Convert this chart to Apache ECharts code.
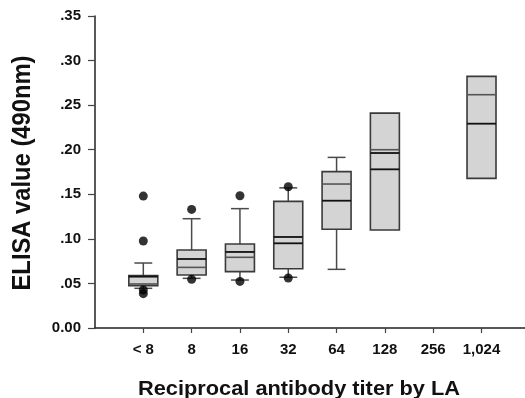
<!DOCTYPE html>
<html><head><meta charset="utf-8">
<script src="https://cdn.jsdelivr.net/npm/echarts@6/dist/echarts.min.js"></script>
<style>html,body{margin:0;padding:0;background:#fff}#c{width:525px;height:398px}</style>
</head><body><div id="c"></div>
<script>
// ---- data ----
var categories = ['< 8', '8', '16', '32', '64', '128', '256', '1,024'];
var yTickLabels = ['0.00', '.05', '.10', '.15', '.20', '.25', '.30', '.35'];
var boxLow      = [0.0475, 0.0595, 0.0632, 0.0665, 0.1107, 0.1099, null, 0.1679];
var boxHigh     = [0.0587, 0.0875, 0.0942, 0.1421, 0.1754, 0.2410, null, 0.2823];
var whiskerLow  = [0.0445, 0.0557, 0.0538, 0.0569, 0.0658, null, null, null];
var whiskerHigh = [0.0729, 0.1226, 0.1339, 0.1572, 0.1914, null, null, null];
var darkLines   = [[0.0576], [0.0774], [0.0853], [0.1021, 0.0950], [0.1428], [0.1963, 0.1780], [], [0.2292]];
var grayLines   = [[0.0494], [0.0680], [0.0793], [], [0.1615], [0.2000], [], [0.2617]];
var outlierCategory = ['< 8', '< 8', '< 8', '< 8', '8', '8', '16', '16', '32', '32'];
var outlierValue    = [0.1480, 0.0976, 0.0426, 0.0385, 0.1330, 0.0546, 0.1484, 0.0523, 0.1585, 0.0561];

// ---- build ----
var boxData = [];
categories.forEach(function (c, i) {
  if (boxLow[i] != null) {
    boxData.push([i + 1, boxLow[i], boxHigh[i],
      whiskerLow[i] == null ? NaN : whiskerLow[i],
      whiskerHigh[i] == null ? NaN : whiskerHigh[i], i]);
  }
});
var outlierData = outlierCategory.map(function (c, k) {
  return [categories.indexOf(c) + 1, outlierValue[k]];
});

var FONT = '"Liberation Sans", Arial, sans-serif';
var chart = echarts.init(document.getElementById('c'), null, { renderer: 'canvas' });

function renderBox(params, api) {
  var x = api.value(0);
  var lo = api.value(1), hi = api.value(2), wl = api.value(3), wh = api.value(4);
  var ci = api.value(5);
  var band = api.size([1, 0])[0];
  var bw = band * 0.6;
  var cw = band * 0.37;
  var pLo = api.coord([x, lo]), pHi = api.coord([x, hi]);
  var cx = pLo[0];
  var children = [];
  var wStyle = { stroke: '#4a4a4a', lineWidth: 1.5 };
  if (!isNaN(wh)) {
    var pWh = api.coord([x, wh]);
    children.push({ type: 'line', shape: { x1: cx, y1: pHi[1], x2: cx, y2: pWh[1] }, style: wStyle });
    children.push({ type: 'line', shape: { x1: cx - cw / 2, y1: pWh[1], x2: cx + cw / 2, y2: pWh[1] }, style: wStyle });
  }
  if (!isNaN(wl)) {
    var pWl = api.coord([x, wl]);
    children.push({ type: 'line', shape: { x1: cx, y1: pLo[1], x2: cx, y2: pWl[1] }, style: wStyle });
    children.push({ type: 'line', shape: { x1: cx - cw / 2, y1: pWl[1], x2: cx + cw / 2, y2: pWl[1] }, style: wStyle });
  }
  children.push({ type: 'rect', shape: { x: cx - bw / 2, y: pHi[1], width: bw, height: pLo[1] - pHi[1] },
    style: { fill: '#d4d4d4', stroke: '#3a3a3a', lineWidth: 1.6 } });
  grayLines[ci].forEach(function (v) {
    var p = api.coord([x, v]);
    children.push({ type: 'line', shape: { x1: cx - bw / 2, y1: p[1], x2: cx + bw / 2, y2: p[1] },
      style: { stroke: '#555', lineWidth: 1.6 } });
  });
  darkLines[ci].forEach(function (v) {
    var p = api.coord([x, v]);
    children.push({ type: 'line', shape: { x1: cx - bw / 2, y1: p[1], x2: cx + bw / 2, y2: p[1] },
      style: { stroke: '#111', lineWidth: 1.8 } });
  });
  return { type: 'group', children: children };
}

chart.setOption({
  animation: false,
  backgroundColor: '#fff',
  grid: { left: 95, top: 16, right: 0, bottom: 70, containLabel: false },
  xAxis: {
    type: 'value', min: 0, max: 8.9,
    splitLine: { show: false },
    axisLine: { show: true, lineStyle: { color: '#222', width: 1.5 } },
    axisTick: { show: true, length: 5, customValues: [1, 2, 3, 4, 5, 6, 7, 8], lineStyle: { color: '#444', width: 1.2 } },
    axisLabel: {
      customValues: [1, 2, 3, 4, 5, 6, 7, 8],
      formatter: function (v) { return categories[Math.round(v) - 1] || ''; },
      margin: 14, fontFamily: FONT, fontWeight: 'bold', fontSize: 15, color: '#111'
    }
  },
  yAxis: {
    type: 'value', min: 0, max: 0.35, interval: 0.05,
    splitLine: { show: false },
    axisLine: { show: true, lineStyle: { color: '#222', width: 1.5 } },
    axisTick: { show: true, length: 7, lineStyle: { color: '#444', width: 1.2 } },
    axisLabel: {
      formatter: function (v) { return yTickLabels[Math.round(v / 0.05)]; },
      margin: 14, fontFamily: FONT, fontWeight: 'bold', fontSize: 15, color: '#111'
    }
  },
  graphic: [
    { type: 'text', x: 23, y: 173, rotation: Math.PI / 2, scaleX: 0.95,
      style: { text: 'ELISA value (490nm)', font: 'bold 25px ' + FONT, fill: '#111',
        align: 'center', verticalAlign: 'middle' } },
    { type: 'text', x: 299, y: 389, scaleX: 1.09,
      style: { text: 'Reciprocal antibody titer by LA', font: 'bold 20px ' + FONT, fill: '#111',
        align: 'center', verticalAlign: 'middle' } }
  ],
  series: [
    { type: 'custom', renderItem: renderBox, data: boxData, encode: { x: 0, y: [1, 2] }, z: 2 },
    { type: 'scatter', data: outlierData, symbol: 'circle', symbolSize: 9,
      itemStyle: { color: '#000' }, z: 3 }
  ]
});
</script></body></html>
